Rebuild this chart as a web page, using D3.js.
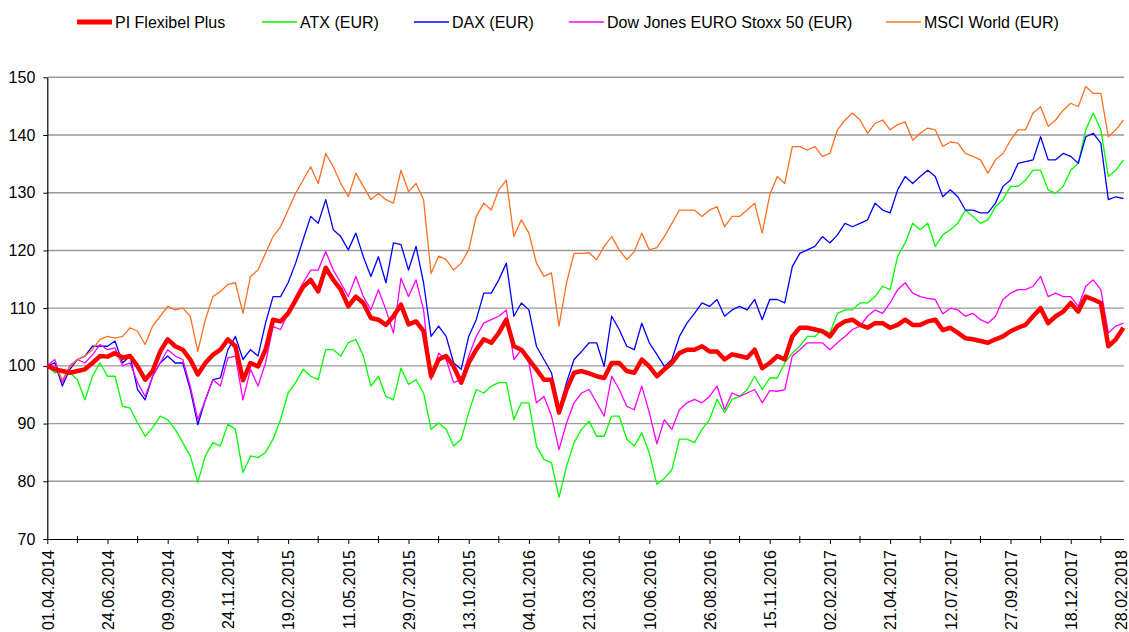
<!DOCTYPE html>
<html>
<head>
<meta charset="utf-8">
<script src="https://cdn.jsdelivr.net/npm/d3@7"></script>
<style>
  body { margin: 0; background: #fff; }
  text { font-family: "Liberation Sans", Arial, sans-serif; }
</style>
</head>
<body>
<script>
// tick labels (one every 8 samples, last one at the final sample)
var dateLabels = ["01.04.2014","24.06.2014","09.09.2014","24.11.2014","19.02.2015","11.05.2015",
  "29.07.2015","13.10.2015","04.01.2016","21.03.2016","10.06.2016","26.08.2016","15.11.2016",
  "02.02.2017","21.04.2017","12.07.2017","27.09.2017","18.12.2017","28.02.2018"];
var samplesPerLabel = 8;

var seriesNames = ["PI Flexibel Plus","ATX (EUR)","DAX (EUR)","Dow Jones EURO Stoxx 50 (EUR)","MSCI World (EUR)"];

var piFlex = [100,99.4,99.1,98.8,99.1,99.4,100.5,101.7,101.6,102.2,101.4,101.7,99.9,97.6,99.1,102.5,104.6,103.4,102.8,101.1,98.5,100.5,101.9,102.8,104.6,
  103.4,97.5,100.5,99.9,102.8,108,107.7,109.1,111.4,113.7,114.9,112.9,117,114.9,113.2,110.3,112,110.9,108.3,108,107.1,108.6,110.6,107.2,
  107.7,106.0,98.2,101.1,101.7,99.9,97.1,100.5,102.8,104.6,104.0,105.7,108.0,103.4,102.8,101.1,99.4,97.6,97.6,91.9,95.9,98.8,99.1,98.7,
  98.2,97.9,100.5,100.5,99.1,98.8,101.1,99.9,98.2,99.4,100.5,102.2,102.8,102.8,103.4,102.5,102.5,101.1,102.0,101.7,101.4,102.8,99.6,100.5,
  101.7,101.1,105.1,106.6,106.6,106.3,106.0,105.1,106.9,107.7,108.0,107.1,106.6,107.4,107.4,106.6,107.1,108.0,107.1,107.1,107.7,108.0,106.2,
  106.6,105.7,104.8,104.6,104.3,104.0,104.6,105.1,106.0,106.6,107.1,108.6,110.0,107.4,108.6,109.4,110.9,109.4,112.0,111.5,110.9,103.4,104.6,106.6];

var atx = [100,98.8,99.1,98.8,97.6,94.1,98.2,100.5,98.2,98.2,93,92.7,90.1,87.8,89.3,91.3,90.7,89,86.7,84.4,79.8,84.4,86.7,86.1,89.9,
  89,81.5,84.4,84.1,85,87.3,90.7,95.3,97.1,99.4,98.2,97.6,102.8,102.8,101.7,104,104.6,101.7,96.5,98.2,94.7,94.1,99.6,96.8,
  97.6,95.3,89.0,90.1,89.0,86.1,87.3,91.9,95.9,95.3,96.5,97.1,97.1,90.7,93.6,93.6,86.1,83.8,83.2,77.2,82.6,86.7,89.0,90.4,
  87.8,87.8,91.3,91.3,87.3,86.1,88.4,84.9,79.5,80.5,82.0,87.3,87.3,86.7,89.0,90.7,94.2,91.9,94.2,94.7,95.9,98.2,95.9,97.9,
  97.9,100.5,102.2,103.4,105.1,105.1,106.3,105.7,109.1,109.7,109.7,110.9,110.9,112.0,113.8,113.2,119.0,121.3,124.7,123.6,124.7,120.7,122.7,
  123.6,124.7,127.0,125.9,124.7,125.3,127.6,128.8,131.1,131.1,132.2,133.9,133.9,130.5,129.9,131.1,133.9,135.1,140.9,143.8,140.9,132.8,133.9,135.7];

var dax = [100,100.5,96.5,99.4,101.1,101.7,103.4,103.4,103.4,104.3,100.5,101.7,95.9,94.1,98.2,100.5,101.7,100.5,100.5,95.9,89.8,94.1,97.6,97.9,102.8,
  105.1,101.1,102.8,101.7,107.4,112,112,114.4,117.8,121.9,125.9,124.7,128.8,123.6,122.4,120.1,123,118.9,115.5,118.9,114.4,121.3,121,116.6,
  120.7,114.4,105.1,106.9,105.1,100.5,99.4,105.1,108.0,112.6,112.6,114.9,117.8,108.6,110.9,109.7,103.4,101.1,98.8,92.4,97.1,101.1,102.5,104.0,
  104.0,99.9,108.6,106.3,103.4,102.8,107.4,104.0,102.0,99.9,101.1,105.1,107.4,109.1,110.9,110.3,111.5,108.6,109.7,110.3,109.7,111.5,108.0,111.5,
  111.5,110.9,117.2,119.5,120.1,120.7,122.4,121.3,122.7,124.7,124.1,124.7,125.3,128.2,127.0,126.5,130.5,132.8,131.6,132.8,133.9,132.8,129.3,
  130.5,129.3,127.0,127.0,126.5,126.5,128.2,131.1,132.2,135.1,135.4,135.7,139.7,135.7,135.7,136.8,136.3,135.1,139.7,140.3,138.6,128.8,129.3,129.0];

var stoxx = [100,101.1,97.1,100,101.1,100.5,101.9,103.7,102.8,103.1,100,100.5,97.1,94.7,98.2,100.5,102.8,101.7,101.1,96.5,90.7,94.1,97.6,96.5,101.4,
  101.7,94.1,99.4,96.5,100.5,106.8,106.3,109.1,112,114.4,116.6,116.6,119.8,116.6,114.4,112,115.5,112,109.7,113.2,109.7,105.7,115.2,112,
  114.9,109.7,97.6,102.2,101.1,97.1,97.6,101.7,105.1,107.4,108.0,108.6,109.7,101.1,102.8,100.5,93.6,94.7,91.3,85.5,90.1,93.6,95.3,95.9,
  93.6,91.3,98.2,95.9,93.0,92.4,96.5,91.9,86.5,90.7,89.0,92.4,93.6,94.2,93.6,94.7,96.5,92.4,95.3,94.7,95.3,95.9,93.6,95.7,
  95.6,95.9,101.7,102.8,104.0,104.0,104.0,102.8,104.0,105.1,106.3,106.9,108.6,109.7,109.1,110.9,113.2,114.4,112.6,112.0,111.7,111.5,109.0,
  110.0,109.7,108.6,109.1,108.0,107.4,108.6,111.5,112.6,113.2,113.2,113.8,115.5,112.0,112.6,112.0,112.0,110.3,113.8,114.9,113.2,105.7,106.9,107.4];

var msci = [100,100,97.6,99.8,101.1,101.7,102.8,104.6,105.1,104.8,105.1,106.6,106,103.7,106.9,108.6,110.3,109.7,110,108.6,102.5,108,112,112.9,114.1,
  114.4,109.1,115.5,116.6,119.5,122.4,124.1,127,129.9,132.2,134.5,131.6,136.8,134.5,131.6,129.3,133.4,131.1,128.8,129.9,128.8,128.2,133.9,130.2,
  131.6,128.8,116,119.0,118.4,116.6,117.8,120.1,125.9,128.2,127.0,130.5,132.2,122.4,125.3,123.0,117.8,115.5,116.1,106.9,114.4,119.5,119.5,119.6,
  118.4,120.7,122.4,120.1,118.4,119.8,123.0,120.1,120.5,122.4,124.7,127.0,127.0,127.0,125.9,127.0,127.6,124.1,125.9,125.9,127.0,128.2,123.0,129.6,
  132.8,131.6,138.0,138.0,137.4,138.0,136.3,136.8,140.9,142.6,143.8,142.6,140.3,142.0,142.6,140.9,141.8,142.3,139.1,140.3,141.2,140.9,138.0,
  138.8,138.6,136.8,136.3,135.7,133.4,135.7,136.8,139.1,140.9,140.9,143.8,144.9,141.5,142.6,144.3,145.5,144.9,148.4,147.2,147.2,139.7,140.9,142.6];

const svg_width = 1129, svg_height = 632;
const plot_left = 47.3, plot_right = 1123.4, plot_top = 77.3, plot_bottom = 539;

var colors = ["#ff0000","#00ff00","#0000ff","#ff00ff","#ff7020"];
var widths = [4.5,1.3,1.3,1.3,1.3];
var allSeries = [piFlex, atx, dax, stoxx, msci];

var svg = d3.select("body")
            .append("svg")
            .attr("width", svg_width)
            .attr("height", svg_height);

var x = d3.scaleLinear().domain([0, piFlex.length - 1]).range([plot_left, plot_right]);
var y = d3.scaleLinear().domain([70, 150]).range([plot_bottom, plot_top]);

// horizontal grid
svg.append("g")
   .selectAll("line")
   .data(d3.range(80, 151, 10))
   .enter()
   .append("line")
   .attr("x1", plot_left)
   .attr("x2", plot_right + 0.6)
   .attr("y1", function(d){ return y(d); })
   .attr("y2", function(d){ return y(d); })
   .attr("stroke", "#9a9a9a")
   .attr("stroke-width", 1.4);

// y axis
var yAxis = svg.append("g")
               .attr("transform", "translate(" + plot_left + ",0)")
               .call(d3.axisLeft(y).tickValues(d3.range(70, 151, 10)).tickSize(4).tickPadding(8).tickSizeOuter(0));
yAxis.select(".domain").attr("stroke", "#000").attr("stroke-width", 1.2);
yAxis.selectAll("text").attr("font-size", "16px").attr("fill", "#000")
     .attr("font-family", "'Liberation Sans', Arial, sans-serif");

// x axis with the date labels
var lastIdx = piFlex.length - 1;
var majorIdx = dateLabels.map(function(d, i){
  return i < dateLabels.length - 1 ? i * samplesPerLabel : lastIdx;
});
var xAxis = svg.append("g")
               .attr("transform", "translate(0," + plot_bottom + ")")
               .call(d3.axisBottom(x).tickValues(majorIdx)
                       .tickFormat(function(d, i){ return dateLabels[i]; })
                       .tickSize(5).tickSizeOuter(0));
xAxis.select(".domain").attr("stroke", "#000").attr("stroke-width", 1.2);
xAxis.selectAll(".tick").filter(function(d){ return d === lastIdx; }).select("line").remove();
xAxis.selectAll("text")
     .attr("font-size", "16px")
     .attr("fill", "#000")
     .attr("font-family", "'Liberation Sans', Arial, sans-serif")
     .attr("text-anchor", "end")
     .attr("transform", "rotate(-90)")
     .attr("x", -11)
     .attr("y", function(d){ return d === lastIdx ? -3 : 0; })
     .attr("dy", "0.36em");

// minor ticks halfway between labels
var minorIdx = d3.range(samplesPerLabel / 2, lastIdx, samplesPerLabel);
svg.append("g")
   .selectAll("line")
   .data(minorIdx)
   .enter()
   .append("line")
   .attr("x1", function(d){ return x(d); })
   .attr("x2", function(d){ return x(d); })
   .attr("y1", plot_bottom - 3)
   .attr("y2", plot_bottom + 4)
   .attr("stroke", "#000")
   .attr("stroke-width", 1);

// series lines, fund drawn last so it stays on top
var line = d3.line()
             .x(function(d, i){ return x(i); })
             .y(function(d){ return y(d); });

var order = [1, 2, 3, 4, 0];
order.forEach(function(k){
  svg.append("path")
     .attr("d", line(allSeries[k]))
     .attr("fill", "none")
     .attr("stroke", colors[k])
     .attr("stroke-width", widths[k])
     .attr("stroke-linejoin", "round");
});

// legend
var legendX = [77, 262, 414, 569, 886];
var legend = svg.append("g");
seriesNames.forEach(function(name, k){
  legend.append("line")
        .attr("x1", legendX[k])
        .attr("x2", legendX[k] + 35)
        .attr("y1", 22)
        .attr("y2", 22)
        .attr("stroke", colors[k])
        .attr("stroke-width", widths[k] + 0.3);
  legend.append("text")
        .attr("x", legendX[k] + 38)
        .attr("y", 27.5)
        .attr("font-size", "16px")
        .attr("fill", "#000")
        .text(name);
});
</script>
</body>
</html>
